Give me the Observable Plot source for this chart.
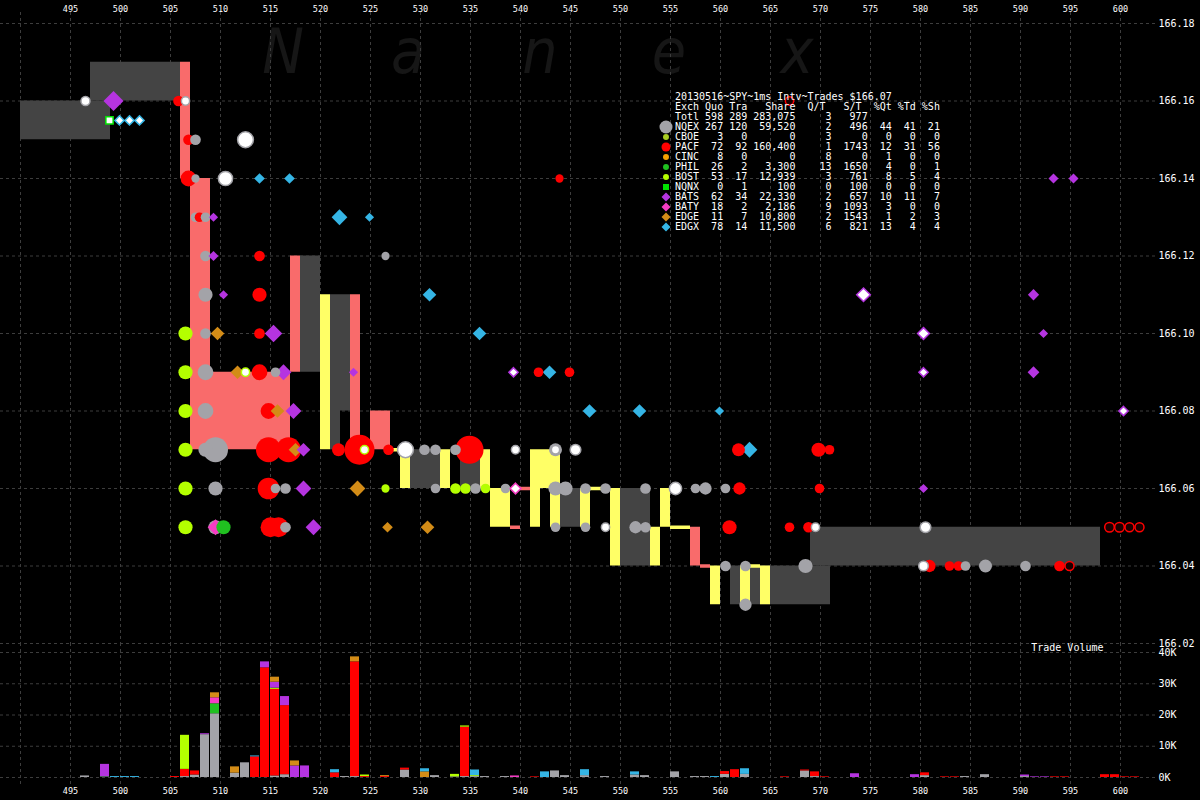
<!DOCTYPE html>
<html>
<head>
<meta charset="utf-8">
<script src="https://cdn.jsdelivr.net/npm/d3@7"></script>
<script src="https://cdn.jsdelivr.net/npm/@observablehq/plot@0.6"></script>
<style>
  html, body { margin:0; padding:0; background:#000; }
  #wrap { position:relative; width:1200px; height:800px; overflow:hidden; background:#000; }
  #wrap > div { position:absolute; left:0; }
  #bg { top:0; }
  #price { top:0; }
  #vol { top:640px; }
  #icons { top:0; pointer-events:none; }
  #table { position:absolute; left:675px; top:92px; margin:0; font:10px/10px "DejaVu Sans Mono", monospace; color:#fff; white-space:pre; }
</style>
</head>
<body>
<div id="wrap">
  <div id="bg"></div>
  <div id="price"></div>
  <div id="vol"></div>
  <pre id="table"></pre>
  <div id="icons"></div>
</div>
<script>
// ---------------- DATA ----------------
const exchanges = ["NQEX","CBOE","PACF","CINC","PHIL","BOST","NQNX","BATS","BATY","EDGE","EDGX"];
const exColors  = ["#a3a3a8","#a8cc22","#ff0000","#f5a000","#20c020","#b4ff00","#00e000","#b534e0","#f53cc3","#d38c17","#35b5e5"];
const exSymbols = ["circle","circle","circle","circle","circle","circle","square","diamond2","diamond2","diamond2","diamond2"];

// table values
const tableTitle = "20130516~SPY~1ms Intv~Trades $166.07";
const totals = {quo: 598, tra: 289, share: 283075, qt: 3, st: 977};
const quo   = [267, 3, 72, 8, 26, 53, 0, 62, 18, 11, 78];
const tra   = [120, 0, 92, 0, 2, 17, 1, 34, 2, 7, 14];
const share = [59520, 0, 160400, 0, 3300, 12939, 100, 22330, 2186, 10800, 11500];
const qPerT = [2, 3, 1, 8, 13, 3, 0, 2, 9, 2, 6];
const sPerT = [496, 0, 1743, 0, 1650, 761, 100, 657, 1093, 1543, 821];
const pctQt = [44, 0, 12, 1, 4, 8, 0, 10, 3, 1, 13];
const pctTd = [41, 0, 31, 0, 0, 5, 0, 11, 0, 2, 4];
const pctSh = [21, 0, 56, 0, 1, 4, 0, 7, 0, 3, 4];

// axis ticks
const timeGrid   = [490,495,500,505,510,515,520,525,530,535,540,545,550,555,560,565,570,575,580,585,590,595,600];
const timeLabels = [495,500,505,510,515,520,525,530,535,540,545,550,555,560,565,570,575,580,585,590,595,600];
const priceTicks = [166.02,166.04,166.06,166.08,166.10,166.12,166.14,166.16,166.18];
const volTicks   = [0,10000,20000,30000,40000];

// quote spans [kind, t1, t2, low, high]
const spanRows = [
  ["spread",490,499,166.15,166.16],["spread",497,506,166.16,166.17],["spread",518,520,166.09,166.12],
  ["spread",521,522,166.07,166.11],["spread",522,523,166.08,166.11],["spread",529,532,166.06,166.07],
  ["spread",534,536,166.06,166.07],["spread",544,546,166.05,166.06],["spread",550,553,166.04,166.06],
  ["spread",561,571,166.03,166.04],["spread",569,598,166.04,166.05],
  ["crossed",506,507,166.14,166.17],["crossed",507,509,166.07,166.14],["crossed",509,517,166.07,166.09],
  ["crossed",517,518,166.09,166.12],["crossed",523,524,166.07,166.11],["crossed",525,527,166.07,166.08],
  ["crossed",557,558,166.04,166.05],
  ["locked",520,521,166.07,166.11],["locked",528,529,166.06,166.07],["locked",532,533,166.06,166.07],
  ["locked",536,537,166.06,166.07],["locked",537,539,166.05,166.06],["locked",541,544,166.06,166.07],
  ["locked",541,542,166.05,166.06],["locked",543,544,166.05,166.06],["locked",546,547,166.05,166.06],
  ["locked",549,550,166.04,166.06],["locked",553,554,166.04,166.05],["locked",554,555,166.05,166.06],
  ["locked",559,560,166.03,166.04],["locked",562,563,166.03,166.04],["locked",564,565,166.03,166.04]
];
// zero-width segments [kind, t1, t2, price]
const flatRows = [
  ["locked",527,528,166.07],["locked",547,549,166.06],["locked",555,557,166.05],["locked",563,564,166.04],
  ["crossed",539,540,166.05],["crossed",540,541,166.06],["crossed",558,559,166.04]
];

// quotes [exchange, ms, price, shares]
const quoteRows = [
  ["PACF",505.8,166.16,300],["BATS",499.3,166.16,1600],
  ["PACF",506.8,166.15,300],["NQEX",507.5,166.15,300],
  ["PACF",506.8,166.14,1100],["NQEX",507.5,166.14,100],["EDGX",513.9,166.14,200],["EDGX",516.9,166.14,200],
  ["PACF",543.9,166.14,100],["BATS",593.3,166.14,150],["BATS",595.3,166.14,150],
  ["NQEX",507.5,166.13,200],["PACF",507.9,166.13,200],["NQEX",508.5,166.13,200],["BATS",509.3,166.13,100],
  ["EDGX",521.9,166.13,800],["EDGX",524.9,166.13,100],
  ["NQEX",508.5,166.12,300],["BATS",509.3,166.12,150],["PACF",513.9,166.12,300],["NQEX",526.5,166.12,100],
  ["NQEX",508.5,166.11,800],["BATS",510.3,166.11,100],["PACF",513.9,166.11,800],["EDGX",530.9,166.11,500],
  ["BATS",591.3,166.11,250],
  ["BOST",506.5,166.10,800],["NQEX",508.5,166.10,300],["EDGE",509.7,166.10,500],["PACF",513.9,166.10,300],
  ["BATS",515.3,166.10,1100],["EDGX",535.9,166.10,500],["BATS",592.3,166.10,100],
  ["BOST",506.5,166.09,800],["NQEX",508.5,166.09,1100],["EDGE",511.7,166.09,500],["PACF",513.9,166.09,1100],
  ["NQEX",515.5,166.09,200],["BATS",516.3,166.09,800],["BATS",523.3,166.09,100],["PACF",541.8,166.09,200],
  ["EDGX",542.9,166.09,500],["PACF",544.9,166.09,200],["BATS",591.3,166.09,300],
  ["BOST",506.5,166.08,800],["NQEX",508.5,166.08,1100],["PACF",514.8,166.08,1100],["EDGE",515.7,166.08,500],
  ["BATS",517.3,166.08,800],["EDGX",546.9,166.08,500],["EDGX",551.9,166.08,500],["EDGX",559.9,166.08,100],
  ["BOST",506.5,166.07,800],["NQEX",508.5,166.07,800],["NQEX",509.5,166.07,3800],["PACF",514.8,166.07,3800],
  ["PACF",516.8,166.07,3800],["EDGE",517.5,166.07,500],["BATS",518.3,166.07,500],["PACF",521.8,166.07,600],
  ["PACF",523.9,166.07,5900],["PACF",526.8,166.07,300],["NQEX",530.4,166.07,300],["NQEX",531.5,166.07,300],
  ["NQEX",533.5,166.07,300],["PACF",534.9,166.07,5000],["NQEX",543.5,166.07,600],["PACF",561.8,166.07,600],
  ["EDGX",562.9,166.07,800],["PACF",569.8,166.07,800],["PACF",570.9,166.07,200],
  ["BOST",506.5,166.06,800],["NQEX",509.5,166.06,800],["PACF",514.8,166.06,2600],["NQEX",515.5,166.06,200],
  ["NQEX",516.5,166.06,300],["BATS",518.3,166.06,800],["EDGE",523.7,166.06,800],["BOST",526.5,166.06,100],
  ["NQEX",531.5,166.06,200],["BOST",533.5,166.06,300],["BOST",534.5,166.06,300],["NQEX",535.5,166.06,300],
  ["BOST",536.5,166.06,200],["NQEX",538.5,166.06,200],["NQEX",543.5,166.06,800],["NQEX",544.5,166.06,800],
  ["NQEX",546.5,166.06,300],["NQEX",548.5,166.06,300],["NQEX",552.5,166.06,300],["NQEX",557.5,166.06,200],
  ["NQEX",558.5,166.06,500],["NQEX",560.5,166.06,200],["PACF",561.9,166.06,500],["PACF",569.9,166.06,200],
  ["BATS",580.3,166.06,100],
  ["BOST",506.5,166.05,800],["NQEX",509.5,166.05,800],["BATY",509.5,166.05,800],["PHIL",510.3,166.05,800],
  ["PACF",515.0,166.05,2100],["PACF",515.8,166.05,2100],["NQEX",516.5,166.05,300],["BATS",519.3,166.05,800],
  ["EDGE",526.7,166.05,200],["EDGE",530.7,166.05,500],["NQEX",543.5,166.05,200],["NQEX",546.5,166.05,200],
  ["NQEX",551.5,166.05,500],["NQEX",552.5,166.05,300],["PACF",560.9,166.05,800],["PACF",566.9,166.05,200],
  ["PACF",568.8,166.05,300],
  ["NQEX",560.5,166.04,300],["NQEX",562.5,166.04,300],["NQEX",568.5,166.04,800],["PACF",580.9,166.04,500],
  ["PACF",582.9,166.04,200],["PACF",583.8,166.04,200],["NQEX",584.5,166.04,200],["NQEX",586.5,166.04,600],
  ["NQEX",590.5,166.04,300],["PACF",593.9,166.04,300],
  ["NQEX",562.5,166.03,500]
];

// trades [exchange, ms, price, shares]
const tradeRows = [
  ["NQEX",496.5,166.16,150],["NQNX",498.9,166.155,100],["EDGX",499.9,166.155,100],["EDGX",500.9,166.155,100],
  ["EDGX",501.9,166.155,100],["NQEX",506.5,166.16,100],["NQEX",512.5,166.15,1100],["NQEX",510.5,166.14,800],
  ["BOST",512.5,166.09,100],["BOST",524.4,166.07,100],["NQEX",528.5,166.07,1100],["NQEX",539.5,166.07,100],
  ["NQEX",543.5,166.07,100],["NQEX",545.5,166.07,300],["BATY",539.5,166.06,200],["BATS",539.3,166.09,100],
  ["NQEX",555.5,166.06,500],["NQEX",548.5,166.05,100],["NQEX",569.5,166.05,100],["NQEX",580.5,166.05,300],
  ["NQEX",580.3,166.04,200],["BATS",574.3,166.11,500],["BATS",580.3,166.10,300],["BATS",580.3,166.09,100],
  ["BATS",600.3,166.08,100]
];

// flagged PACF quotes drawn as rings [ms, price, shares]
const ringRows = [[566.9,166.16,100],[594.9,166.04,150],[598.9,166.05,200],[599.9,166.05,200],[600.9,166.05,150],[601.9,166.05,150]];

// trade volume per ms [ms, exchange, shares]
const volumeRows = [
  [496,"NQEX",500],[498,"PHIL",200],[498,"BATS",4000],[499,"EDGX",300],[500,"EDGX",300],[501,"EDGX",300],
  [505,"PACF",300],[506,"NQEX",300],[506,"PACF",2300],[506,"BOST",10900],[507,"NQEX",800],[507,"PACF",1300],
  [508,"NQEX",13700],[508,"BATS",300],[509,"NQEX",20400],[509,"PHIL",3200],[509,"BATY",1900],[509,"EDGE",1600],
  [511,"NQEX",1400],[511,"EDGE",2000],[512,"NQEX",4700],[513,"PACF",6600],[513,"EDGX",300],
  [514,"PACF",35100],[514,"BATS",1900],
  [515,"NQEX",500],[515,"PACF",27700],[515,"BOST",400],[515,"BATS",1900],[515,"EDGE",1600],
  [516,"NQEX",900],[516,"PACF",22100],[516,"BATS",2900],[517,"BATS",3700],[517,"EDGE",1600],[518,"BATS",3700],
  [521,"PACF",1500],[521,"EDGX",1000],[522,"NQEX",300],[523,"NQEX",300],[523,"PACF",36700],[523,"EDGE",1600],
  [524,"PACF",300],[524,"BOST",500],[526,"PACF",300],[526,"EDGE",300],[528,"NQEX",2400],[528,"PACF",600],
  [530,"EDGE",1800],[530,"EDGX",1000],[531,"NQEX",600],[533,"NQEX",200],[533,"BOST",800],
  [534,"NQEX",300],[534,"PACF",15800],[534,"BOST",400],[535,"NQEX",300],[535,"BOST",300],[535,"EDGX",1800],
  [536,"NQEX",300],[538,"NQEX",300],[539,"BATY",500],[541,"PACF",200],[542,"EDGX",1800],[543,"NQEX",2100],
  [544,"NQEX",600],[546,"NQEX",600],[546,"EDGX",1900],[548,"NQEX",300],[551,"NQEX",800],[551,"EDGX",1000],
  [552,"NQEX",600],[555,"NQEX",1800],[557,"NQEX",300],[558,"NQEX",300],[559,"EDGX",300],
  [560,"NQEX",1000],[560,"PACF",900],[561,"PACF",2500],[562,"NQEX",1000],[562,"EDGX",1800],[566,"PACF",200],
  [568,"NQEX",2100],[568,"PACF",300],[569,"NQEX",300],[569,"PACF",1500],[570,"PACF",200],[573,"BATS",1200],
  [579,"BATS",900],[580,"NQEX",600],[580,"PACF",900],[582,"PACF",200],[583,"PACF",200],[584,"NQEX",300],
  [586,"NQEX",900],[590,"NQEX",300],[590,"BATS",500],[591,"BATS",200],[592,"BATS",200],[593,"PACF",200],
  [594,"PACF",200],[598,"PACF",900],[599,"PACF",900],[600,"PACF",200],[601,"PACF",200]
];

// ---------------- BUILD ----------------
const spans  = spanRows.map(([kind,t1,t2,lo,hi]) => ({kind,t1,t2,lo,hi}));
const flats  = flatRows.map(([kind,t1,t2,p]) => ({kind,t1,t2,p}));
const quotes = quoteRows.map(([ex,t,p,s]) => ({ex,t,p,s}));
const trades = tradeRows.map(([ex,t,p,s]) => ({ex,t,p,s}));
const rings  = ringRows.map(([t,p,s]) => ({t,p,s}));
const volume = volumeRows.map(([t,ex,v]) => ({t,ex,v}));

const spanFill = {spread: "#444444", crossed: "#f96b6b", locked: "#ffff66"};
const grid = {stroke: "#3d3d3d", strokeDasharray: "3,3", strokeWidth: 1};
const font = "DejaVu Sans Mono, monospace";
const xDomain = [488, 603.5];
const yTop = 166.18 + 0.02 * 11 / 77.5;

// watermark
const bg = d3.select("#bg").append("svg").attr("width", 1200).attr("height", 800);
const wm = [["N",283,62],["a",408,62],["n",540,62],["e",669,62],["x",797,62]];
bg.selectAll("text").data(wm).join("text")
  .attr("transform", d => `translate(${d[1]},73) scale(0.9,1)`)
  .attr("text-anchor", "middle")
  .attr("font-family", "DejaVu Sans")
  .attr("font-style", "italic")
  .attr("font-size", d => d[2])
  .attr("fill", "#161616")
  .text(d => d[0]);

const pricePlot = Plot.plot({
  width: 1200, height: 660,
  marginLeft: 0, marginRight: 45, marginTop: 12, marginBottom: 17,
  style: {background: "transparent", color: "#fff", fontFamily: font, overflow: "visible"},
  x: {domain: xDomain, axis: null},
  y: {domain: [166.02, yTop], axis: null},
  r: {type: "sqrt", domain: [0, 5000], range: [2.5, 14]},
  color: {domain: exchanges, range: exColors},
  symbol: {domain: exchanges, range: exSymbols},
  marks: [
    Plot.ruleY(priceTicks, {y: d => d, ...grid}),
    Plot.ruleX(timeGrid, {x: d => d, ...grid}),
    ...["spread","crossed","locked"].map(k =>
      Plot.rect(spans, {filter: d => d.kind === k, x1: "t1", x2: "t2", y1: "lo", y2: "hi", fill: spanFill[k]})),
    ...["crossed","locked"].map(k =>
      Plot.ruleY(flats, {filter: d => d.kind === k, y: "p", x1: "t1", x2: "t2", stroke: spanFill[k], strokeWidth: 3.5})),
    Plot.dot(quotes, {x: "t", y: "p", r: "s", fill: "ex", symbol: "ex"}),
    Plot.dot(rings, {x: "t", y: "p", r: "s", fill: "#1a0000", stroke: "#ff0000", strokeWidth: 1.5}),
    Plot.dot(trades, {x: "t", y: "p", r: "s", fill: "#ffffff", stroke: "ex", symbol: "ex", strokeWidth: 1.5}),
    Plot.text(timeLabels, {x: d => d, text: d => String(d), frameAnchor: "top", dy: -7, fill: "#fff", fontSize: 8.5}),
    Plot.text(priceTicks, {y: d => d, text: d => d.toFixed(2), frameAnchor: "right", textAnchor: "start", dx: 3, fill: "#fff", fontSize: 10})
  ]
});
document.getElementById("price").appendChild(pricePlot);

const volPlot = Plot.plot({
  width: 1200, height: 160,
  marginLeft: 0, marginRight: 45, marginTop: 3, marginBottom: 13,
  style: {background: "transparent", color: "#fff", fontFamily: font, overflow: "visible"},
  x: {domain: xDomain, axis: null},
  y: {domain: [-3200, 42880], axis: null},
  color: {domain: exchanges, range: exColors},
  marks: [
    Plot.ruleY(volTicks, {y: d => d, ...grid}),
    Plot.ruleX(timeGrid, {x: d => d, ...grid}),
    Plot.rectY(volume, {x: "t", interval: 1, y: "v", fill: "ex", order: exchanges, insetRight: 1}),
    Plot.text(volTicks, {y: d => d, text: d => d / 1000 + "K", frameAnchor: "right", textAnchor: "start", dx: 3, fill: "#fff", fontSize: 10}),
    Plot.text(timeLabels, {x: d => d, text: d => String(d), frameAnchor: "bottom", dy: 6, fill: "#fff", fontSize: 8.5}),
    Plot.text(["Trade Volume"], {text: d => d, frameAnchor: "top-right", textAnchor: "end", dx: -52, dy: 0, fill: "#fff", fontSize: 10})
  ]
});
document.getElementById("vol").appendChild(volPlot);

// stats table
const fmt = d3.format(",");
const line = (name, q, t, sh, qt, st, a, b, c) =>
  name.padEnd(4) + String(q).padStart(4) + String(t).padStart(4) + String(sh).padStart(8) +
  String(qt).padStart(6) + String(st).padStart(6) + String(a).padStart(4) + String(b).padStart(4) + String(c).padStart(4);
const lines = [
  tableTitle,
  "Exch Quo Tra   Share  Q/T   S/T  %Qt %Td %Sh",
  line("Totl", totals.quo, totals.tra, fmt(totals.share), totals.qt, totals.st, "", "", "").trimEnd(),
  ...exchanges.map((e, i) => line(e, quo[i], tra[i], fmt(share[i]), qPerT[i], sPerT[i], pctQt[i], pctTd[i], pctSh[i]))
];
document.getElementById("table").textContent = lines.join("\n");

// legend icons next to table rows
const iconArea = [133, 28, 64, 28, 28, 28, 36, 52, 52, 52, 52];
const symMap = {circle: d3.symbolCircle, square: d3.symbolSquare, diamond2: d3.symbolDiamond2};
const ic = d3.select("#icons").append("svg").attr("width", 1200).attr("height", 800);
ic.selectAll("path").data(exchanges).join("path")
  .attr("transform", (d, i) => `translate(666,${127 + 10 * i})`)
  .attr("d", (d, i) => d3.symbol(symMap[exSymbols[i]], iconArea[i])())
  .attr("fill", (d, i) => exColors[i]);
</script>
</body>
</html>
